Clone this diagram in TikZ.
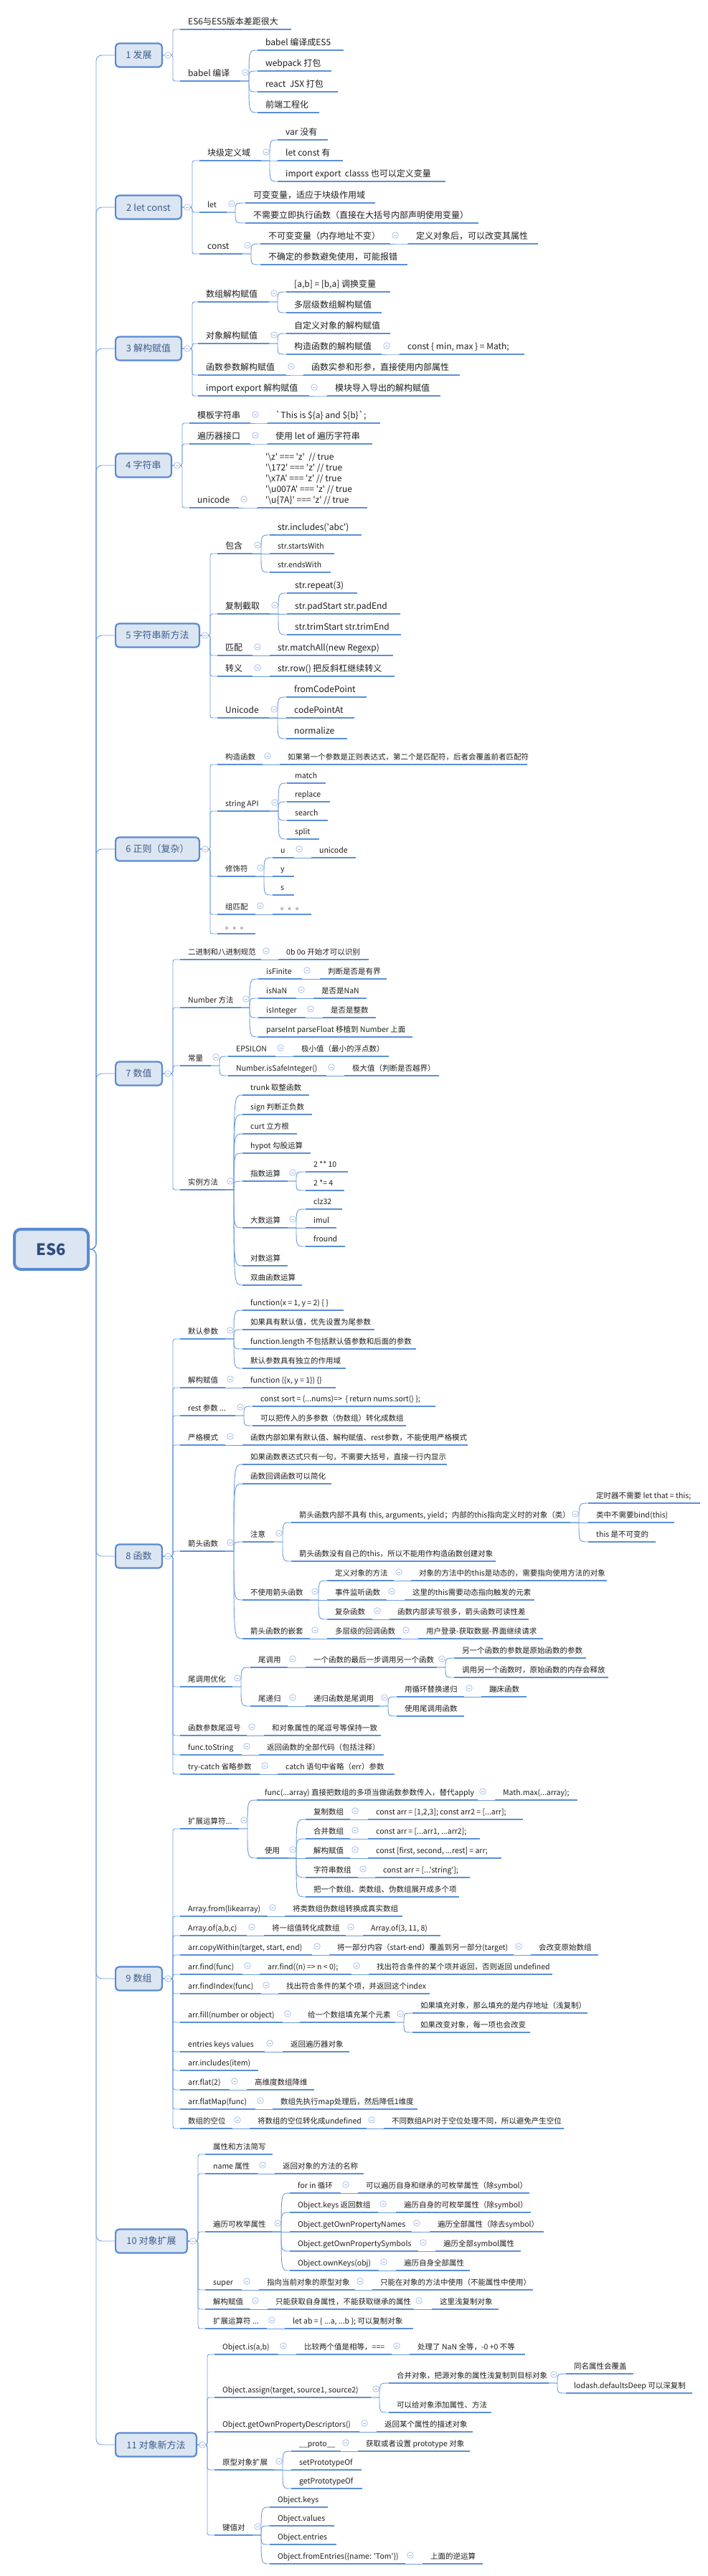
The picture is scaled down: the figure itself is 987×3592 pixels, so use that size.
\documentclass[tikz,border=0pt]{standalone}
\usepackage{fontspec}
\newfontfamily\zh{Noto Sans CJK SC}
\usetikzlibrary{calc}
\definecolor{ulc}{HTML}{5B8FD8}
\definecolor{cnc}{HTML}{6D9CDD}
\definecolor{btc}{HTML}{A3B9E6}
\definecolor{boxf}{HTML}{DCE6F3}
\definecolor{boxb}{HTML}{5A8AD2}
\definecolor{l1c}{HTML}{3E5C8A}
\definecolor{rootc}{HTML}{2F4E7E}
\definecolor{txc}{HTML}{1E1E1E}
\tikzset{
 tnb/.style={anchor=south west, inner xsep=11pt, inner ysep=4pt, text=txc},
 tn/.style={tnb, text height=8.5pt, text depth=2.5pt, font=\zh\fontsize{12}{14}\selectfont},
 sm/.style={font=\zh\fontsize{10.5}{12.5}\selectfont, text height=7.5pt, text depth=2pt},
 ul/.style={draw=ulc, line width=2.6pt},
 conn/.style={draw=cnc, line width=0.9pt},
 btn/.style={draw=btc, fill=white, line width=0.7pt},
 btnm/.style={draw=btc, line width=0.7pt},
 l1/.style={draw=boxb, line width=2.2pt, fill=boxf, rounded corners=5pt, minimum height=33pt, inner sep=2pt, text=l1c, font=\zh\fontsize{13}{15}\selectfont},
 rootn/.style={draw=boxb, line width=4pt, fill=boxf, rounded corners=9pt, minimum width=103pt, minimum height=56pt, text=rootc, font=\zh\bfseries\fontsize{22}{26}\selectfont},
}
\newcommand\topic[6][]{%
  \node[tn,#1] (#2) at (#3,#4) {#6};
  \coordinate (#2e) at (#3+#5,#4);
  \draw[ul] (#3,#4) -- (#3+#5,#4);
}
\newcommand\kids[2]{%
  \foreach \kid in {#2}{%
    \draw[conn] let \p1=(#1e), \p2=(\kid.south west) in (\p1) -- (\x1+12pt,\y1) .. controls (\x1+12pt,\y2) .. (\p2);
  }%
  \draw[btn] ($(#1e)+(7pt,12pt)$) circle[radius=4.3pt];
  \draw[btnm] ($(#1e)+(4.8pt,12pt)$) -- ++(4.4pt,0pt);
}
\newcommand\lkids[2]{%
  \foreach \kid in {#2}{%
    \draw[conn, rounded corners=3pt] let \p1=(#1.east), \p2=(\kid.south west) in (\p1) -- (\x1+14pt,\y1) |- (\p2);
  }%
  \draw[btn] ($(#1.east)+(7pt,0pt)$) circle[radius=4.3pt];
  \draw[btnm] ($(#1.east)+(4.8pt,0pt)$) -- ++(4.4pt,0pt);
}
\begin{document}
\begin{tikzpicture}[x=1pt,y=-1pt]
\fill[white] (0,0) rectangle (987,3592);
\useasboundingbox (0,0) rectangle (987,3592);

% root and level-1 boxes
\node[rootn] (root) at (71.5,1742) {ES6};
\node[l1, minimum width=64.8pt] (s1) at (193.5,77) {1 发展};
\node[l1, minimum width=91.8pt] (s2) at (207,289) {2 let const};
\node[l1, minimum width=91.8pt] (s3) at (207,486) {3 解构赋值};
\node[l1, minimum width=77.8pt] (s4) at (200,649) {4 字符串};
\node[l1, minimum width=116.8pt] (s5) at (219.5,886) {5 字符串新方法};
\node[l1, minimum width=116.8pt] (s6) at (219.5,1184) {6 正则（复杂）};
\node[l1, minimum width=64.8pt] (s7) at (193.5,1497) {7 数值};
\node[l1, minimum width=64.8pt] (s8) at (193.5,2170) {8 函数};
\node[l1, minimum width=64.8pt] (s9) at (193.5,2759) {9 数组};
\node[l1, minimum width=99.8pt] (s10) at (211,3125) {10 对象扩展};
\node[l1, minimum width=112.8pt] (s11) at (217.5,3409) {11 对象新方法};

% section 1
\topic{a1}{251}{41}{155}{ES6与ES5版本差距很大}
\topic{a2}{251}{113}{84}{babel 编译}
\topic{a21}{359}{70}{120}{babel 编译成ES5}
\topic{a22}{359}{99}{103}{webpack 打包}
\topic{a23}{359}{128}{112}{react\ \ JSX 打包}
\topic{a24}{359}{157}{86}{前端工程化}

% section 2
\topic{b1}{278}{224}{86}{块级定义域}
\topic{b11}{387}{195}{70}{var 没有}
\topic{b12}{387}{224}{91}{let const 有}
\topic{b13}{387}{253}{234}{import export\ \ classs 也可以定义变量}
\topic[sm]{b2}{278}{296}{38}{let}
\topic{b21}{342}{283}{181}{可变变量，适应于块级作用域}
\topic{b22}{342}{311}{325}{不需要立即执行函数（直接在大括号内部声明使用变量）}
\topic{b3}{278}{354}{60}{const}
\topic{b31}{363}{340}{181}{不可变变量（内存地址不变）}
\topic{b311}{569}{340}{181}{定义对象后，可以改变其属性}
\topic{b32}{363}{369}{205}{不确定的参数避免使用，可能报错}

% section 3
\topic{c1}{276}{421}{99}{数组解构赋值}
\topic{c11}{399}{407}{145}{[a,b] = [b,a] 调换变量}
\topic{c12}{399}{436}{133}{多层级数组解构赋值}
\topic{c2}{276}{479}{99}{对象解构赋值}
\topic{c21}{399}{465}{145}{自定义对象的解构赋值}
\topic{c22}{399}{494}{133}{构造函数的解构赋值}
\topic{c221}{557}{494}{174}{const \{ min, max \} = Math;}
\topic{c3}{276}{523}{123}{函数参数解构赋值}
\topic{c31}{423}{523}{218}{函数实参和形参，直接使用内部属性}
\topic{c4}{276}{552}{155}{import export 解构赋值}
\topic{c41}{456}{552}{158}{模块导入导出的解构赋值}

% section 4
\topic{d1}{264}{590}{85}{模板字符串}
\topic{d11}{373}{590}{157}{`This is \$\{a\} and \$\{b\}`;}
\topic{d2}{264}{619}{85}{遍历器接口}
\topic{d21}{373}{619}{146}{使用 let of 遍历字符串}
\topic{d3}{264}{708}{69}{unicode}
\node[tnb, align=left, font=\zh\fontsize{12}{15}\selectfont] (d31) at (359,708) {'\textbackslash z' === 'z'\ \ // true\\'\textbackslash 172' === 'z' // true\\'\textbackslash x7A' === 'z' // true\\'\textbackslash u007A' === 'z' // true\\'\textbackslash u\{7A\}' === 'z' // true};
\coordinate (d31e) at (512,708);
\draw[ul] (359,708) -- (512,708);

% section 5
\topic{e1}{303}{772}{49}{包含}
\topic{e11}{376}{746}{128}{str.includes('abc')}
\topic[sm]{e12}{376}{772}{90}{str.startsWith}
\topic[sm]{e13}{376}{798}{85}{str.endsWith}
\topic{e2}{303}{856}{73}{复制截取}
\topic{e21}{400}{827}{98}{str.repeat(3)}
\topic{e22}{400}{856}{158}{str.padStart str.padEnd}
\topic{e23}{400}{885}{159}{str.trimStart str.trimEnd}
\topic{e3}{303}{914}{49}{匹配}
\topic{e31}{376}{914}{172}{str.matchAll(new Regexp)}
\topic{e4}{303}{943}{49}{转义}
\topic{e41}{376}{943}{174}{str.row() 把反斜杠继续转义}
\topic{e5}{303}{1001}{72}{Unicode}
\topic{e51}{399}{972}{112}{fromCodePoint}
\topic{e52}{399}{1001}{95}{codePointAt}
\topic{e53}{399}{1030}{85}{normalize}

% section 6
\topic[sm]{f1}{303}{1066}{63}{构造函数}
\topic[sm]{f11}{390}{1066}{345}{如果第一个参数是正则表达式，第二个是匹配符，后者会覆盖前者匹配符}
\topic[sm]{f2}{303}{1131}{73}{string API}
\topic[sm]{f21}{400}{1092}{54}{match}
\topic[sm]{f22}{400}{1118}{60}{replace}
\topic[sm]{f23}{400}{1144}{57}{search}
\topic[sm]{f24}{400}{1170}{45}{split}
\topic[sm]{f3}{303}{1222}{53}{修饰符}
\topic[sm]{f31}{380}{1196}{30}{u}
\topic[sm]{f311}{434}{1196}{62}{unicode}
\topic[sm]{f32}{380}{1222}{30}{y}
\topic[sm]{f33}{380}{1248}{30}{s}
\topic[sm]{f4}{303}{1275}{53}{组匹配}
\topic[sm]{f41}{380}{1275}{54}{。。。}
\topic[sm]{f5}{303}{1302}{53}{。。。}

% section 7
\topic[sm]{g1}{251}{1338}{113}{二进制和八进制规范}
\topic[sm]{g11}{388}{1338}{126}{0b 0o 开始才可以识别}
\topic[sm]{g2}{251}{1405}{85}{Number 方法}
\topic[sm]{g21}{360}{1365}{61}{isFinite}
\topic[sm]{g211}{446}{1365}{93}{判断是否是有界}
\topic[sm]{g22}{360}{1392}{53}{isNaN}
\topic[sm]{g221}{437}{1392}{74}{是否是NaN}
\topic[sm]{g23}{360}{1419}{66}{isInteger}
\topic[sm]{g231}{450}{1419}{74}{是否是整数}
\topic[sm]{g24}{360}{1446}{215}{parseInt parseFloat 移植到 Number 上面}
\topic[sm]{g3}{251}{1486}{43}{常量}
\topic[sm]{g31}{318}{1473}{66}{EPSILON}
\topic[sm]{g311}{409}{1473}{133}{极小值（最小的浮点数）}
\topic[sm]{g32}{318}{1500}{137}{Number.isSafeInteger()}
\topic[sm]{g321}{480}{1500}{132}{极大值（判断是否越界）}
\topic[sm]{g4}{251}{1659}{63}{实例方法}
\topic[sm]{g41}{338}{1527}{93}{trunk 取整函数}
\topic[sm]{g42}{338}{1554}{97}{sign 判断正负数}
\topic[sm]{g43}{338}{1581}{76}{curt 立方根}
\topic[sm]{g44}{338}{1608}{95}{hypot 勾股运算}
\topic[sm]{g45}{338}{1647}{63}{指数运算}
\topic[sm]{g451}{426}{1634}{59}{2 ** 10}
\topic[sm]{g452}{426}{1660}{54}{2 *= 4}
\topic[sm]{g46}{338}{1712}{63}{大数运算}
\topic[sm]{g461}{426}{1686}{51}{clz32}
\topic[sm]{g462}{426}{1712}{43}{imul}
\topic[sm]{g463}{426}{1738}{55}{fround}
\topic[sm]{g47}{338}{1765}{63}{对数运算}
\topic[sm]{g48}{338}{1792}{83}{双曲函数运算}

% section 8
\topic[sm]{h1}{251}{1867}{63}{默认参数}
\topic[sm]{h11}{338}{1827}{141}{function(x = 1, y = 2) \{ \}}
\topic[sm]{h12}{338}{1854}{184}{如果具有默认值，优先设置为尾参数}
\topic[sm]{h13}{338}{1881}{242}{function.length 不包括默认值参数和后面的参数}
\topic[sm]{h14}{338}{1908}{144}{默认参数具有独立的作用域}
\topic[sm]{h2}{251}{1935}{63}{解构赋值}
\topic[sm]{h21}{338}{1935}{130}{function (\{x, y = 1\}) \{\}}
\topic[sm]{h3}{251}{1974}{77}{rest 参数 ...}
\topic[sm]{h31}{352}{1961}{255}{const sort = (...nums)=>\ \ \{ return nums.sort() \};}
\topic[sm]{h32}{352}{1988}{214}{可以把传入的多参数（伪数组）转化成数组}
\topic[sm]{h4}{251}{2015}{63}{严格模式}
\topic[sm]{h41}{338}{2015}{314}{函数内部如果有默认值、解构赋值、rest参数，不能使用严格模式}
\topic[sm]{h5}{251}{2163}{63}{箭头函数}
\topic[sm]{h51}{338}{2042}{285}{如果函数表达式只有一句，不需要大括号，直接一行内显示}
\topic[sm]{h52}{338}{2069}{124}{函数回调函数可以简化}
\topic[sm]{h53}{338}{2150}{44}{注意}
\topic[sm]{h531}{406}{2123}{389}{箭头函数内部不具有 this, arguments, yield；内部的this指向定义时的对象（类）}
\topic[sm]{h5311}{820}{2096}{156}{定时器不需要 let that = this;}
\topic[sm]{h5312}{820}{2123}{120}{类中不需要bind(this)}
\topic[sm]{h5313}{820}{2150}{94}{this 是不可变的}
\topic[sm]{h532}{406}{2177}{285}{箭头函数没有自己的this，所以不能用作构造函数创建对象}
\topic[sm]{h54}{338}{2231}{94}{不使用箭头函数}
\topic[sm]{h541}{456}{2204}{93}{定义对象的方法}
\topic[sm]{h5411}{573}{2204}{273}{对象的方法中的this是动态的，需要指向使用方法的对象}
\topic[sm]{h542}{456}{2231}{83}{事件监听函数}
\topic[sm]{h5421}{564}{2231}{181}{这里的this需要动态指向触发的元素}
\topic[sm]{h543}{456}{2258}{63}{复杂函数}
\topic[sm]{h5431}{543}{2258}{194}{函数内部读写很多，箭头函数可读性差}
\topic[sm]{h55}{338}{2285}{94}{箭头函数的嵌套}
\topic[sm]{h551}{456}{2285}{103}{多层级的回调函数}
\topic[sm]{h5511}{583}{2285}{174}{用户登录-获取数据-界面继续请求}
\topic[sm]{h6}{251}{2352}{73}{尾调用优化}
\topic[sm]{h61}{349}{2325}{52}{尾调用}
\topic[sm]{h611}{426}{2325}{183}{一个函数的最后一步调用另一个函数}
\topic[sm]{h6111}{633}{2312}{184}{另一个函数的参数是原始函数的参数}
\topic[sm]{h6112}{633}{2339}{215}{调用另一个函数时，原始函数的内存会释放}
\topic[sm]{h62}{349}{2379}{52}{尾递归}
\topic[sm]{h621}{426}{2379}{103}{递归函数是尾调用}
\topic[sm]{h6211}{553}{2366}{94}{用循环替换递归}
\topic[sm]{h62111}{671}{2366}{63}{蹦床函数}
\topic[sm]{h6212}{553}{2393}{94}{使用尾调用函数}
\topic[sm]{h7}{251}{2420}{93}{函数参数尾逗号}
\topic[sm]{h71}{368}{2420}{163}{和对象属性的尾逗号等保持一致}
\topic[sm]{h8}{251}{2447}{86}{func.toString}
\topic[sm]{h81}{361}{2447}{174}{返回函数的全部代码（包括注释）}
\topic[sm]{h9}{251}{2474}{111}{try-catch 省略参数}
\topic[sm]{h91}{387}{2474}{163}{catch 语句中省略（err）参数}

% section 9
\topic[sm]{i1}{251}{2550}{82}{扩展运算符...}
\topic[sm]{i11}{358}{2510}{308}{func(...array) 直接把数组的多项当做函数参数传入，替代apply}
\topic[sm]{i111}{690}{2510}{115}{Math.max(...array);}
\topic[sm]{i12}{358}{2591}{43}{使用}
\topic[sm]{i121}{426}{2537}{62}{复制数组}
\topic[sm]{i1211}{513}{2537}{216}{const arr = [1,2,3]; const arr2 = [...arr];}
\topic[sm]{i122}{426}{2564}{62}{合并数组}
\topic[sm]{i1221}{513}{2564}{156}{const arr = [...arr1, ...arr2];}
\topic[sm]{i123}{426}{2591}{62}{解构赋值}
\topic[sm]{i1231}{513}{2591}{186}{const [first, second, ...rest] = arr;}
\topic[sm]{i124}{426}{2618}{73}{字符串数组}
\topic[sm]{i1241}{523}{2618}{132}{const arr = [...'string'];}
\topic[sm]{i125}{426}{2645}{214}{把一个数组、类数组、伪数组展开成多个项}
\topic[sm]{i2}{251}{2672}{122}{Array.from(likearray)}
\topic[sm]{i21}{397}{2672}{164}{将类数组伪数组转换成真实数组}
\topic[sm]{i3}{251}{2699}{93}{Array.of(a,b,c)}
\topic[sm]{i31}{368}{2699}{114}{将一组值转化成数组}
\topic[sm]{i311}{506}{2699}{108}{Array.of(3, 11, 8)}
\topic[sm]{i4}{251}{2726}{184}{arr.copyWithin(target, start, end)}
\topic[sm]{i41}{459}{2726}{257}{将一部分内容（start-end）覆盖到另一部分(target)}
\topic[sm]{i411}{740}{2726}{94}{会改变原始数组}
\topic[sm]{i5}{251}{2753}{87}{arr.find(func)}
\topic[sm]{i51}{362}{2753}{128}{arr.find((n) => n < 0);}
\topic[sm]{i511}{514}{2753}{256}{找出符合条件的某个项并返回，否则返回 undefined}
\topic[sm]{i6}{251}{2780}{113}{arr.findIndex(func)}
\topic[sm]{i61}{388}{2780}{211}{找出符合条件的某个项，并返回这个index}
\topic[sm]{i7}{251}{2820}{143}{arr.fill(number or object)}
\topic[sm]{i71}{418}{2820}{133}{给一个数组填充某个元素}
\topic[sm]{i711}{575}{2807}{244}{如果填充对象，那么填充的是内存地址（浅复制）}
\topic[sm]{i712}{575}{2834}{164}{如果改变对象，每一项也会改变}
\topic[sm]{i8}{251}{2861}{118}{entries keys values}
\topic[sm]{i81}{394}{2861}{93}{返回遍历器对象}
\topic[sm]{i9}{251}{2887}{109}{arr.includes(item)}
\topic[sm]{ia}{251}{2914}{69}{arr.flat(2)}
\topic[sm]{ia1}{344}{2914}{94}{高维度数组降维}
\topic[sm]{ib}{251}{2941}{105}{arr.flatMap(func)}
\topic[sm]{ib1}{380}{2941}{202}{数组先执行map处理后，然后降低1维度}
\topic[sm]{ic}{251}{2968}{73}{数组的空位}
\topic[sm]{ic1}{348}{2968}{163}{将数组的空位转化成undefined}
\topic[sm]{ic11}{535}{2968}{251}{不同数组API对于空位处理不同，所以避免产生空位}

% section 10
\topic[sm]{j1}{286}{3004}{94}{属性和方法简写}
\topic[sm]{j2}{286}{3031}{73}{name 属性}
\topic[sm]{j21}{383}{3031}{124}{返回对象的方法的名称}
\topic[sm]{j3}{286}{3112}{94}{遍历可枚举属性}
\topic[sm]{j31}{404}{3058}{71}{for in 循环}
\topic[sm]{j311}{499}{3058}{239}{可以遍历自身和继承的可枚举属性（除symbol）}
\topic[sm]{j32}{404}{3085}{123}{Object.keys 返回数组}
\topic[sm]{j321}{552}{3085}{188}{遍历自身的可枚举属性（除symbol）}
\topic[sm]{j33}{404}{3112}{170}{Object.getOwnPropertyNames}
\topic[sm]{j331}{599}{3112}{159}{遍历全部属性（除去symbol）}
\topic[sm]{j34}{404}{3139}{179}{Object.getOwnPropertySymbols}
\topic[sm]{j341}{607}{3139}{119}{遍历全部symbol属性}
\topic[sm]{j35}{404}{3166}{124}{Object.ownKeys(obj)}
\topic[sm]{j351}{552}{3166}{103}{遍历自身全部属性}
\topic[sm]{j4}{286}{3193}{51}{super}
\topic[sm]{j41}{361}{3193}{134}{指向当前对象的原型对象}
\topic[sm]{j411}{519}{3193}{224}{只能在对象的方法中使用（不能属性中使用）}
\topic[sm]{j5}{286}{3220}{63}{解构赋值}
\topic[sm]{j51}{373}{3220}{204}{只能获取自身属性，不能获取继承的属性}
\topic[sm]{j511}{602}{3220}{93}{这里浅复制对象}
\topic[sm]{j6}{286}{3247}{86}{扩展运算符 ...}
\topic[sm]{j61}{397}{3247}{179}{let ab = \{ ...a, ...b \}; 可以复制对象}

% section 11
\topic[sm]{k1}{299}{3283}{89}{Object.is(a,b)}
\topic[sm]{k11}{413}{3283}{133}{比较两个值是相等，===}
\topic[sm]{k111}{571}{3283}{161}{处理了 NaN 全等，-0 +0 不等}
\topic[sm]{k2}{299}{3343}{218}{Object.assign(target, source1, source2)}
\topic[sm]{k21}{542}{3323}{223}{合并对象，把源对象的属性浅复制到目标对象}
\topic[sm]{k211}{789}{3310}{94}{同名属性会覆盖}
\topic[sm]{k212}{789}{3337}{176}{lodash.defaultsDeep 可以深复制}
\topic[sm]{k22}{542}{3364}{143}{可以给对象添加属性、方法}
\topic[sm]{k3}{299}{3391}{202}{Object.getOwnPropertyDescriptors()}
\topic[sm]{k31}{525}{3391}{134}{返回某个属性的描述对象}
\topic[sm]{k4}{299}{3444}{83}{原型对象扩展}
\topic[sm]{k41}{406}{3418}{69}{\_\_proto\_\_}
\topic[sm]{k411}{499}{3418}{156}{获取或者设置 prototype 对象}
\topic[sm]{k42}{406}{3444}{98}{setPrototypeOf}
\topic[sm]{k43}{406}{3470}{99}{getPrototypeOf}
\topic[sm]{k5}{299}{3535}{53}{键值对}
\topic[sm]{k51}{376}{3496}{81}{Object.keys}
\topic[sm]{k52}{376}{3522}{90}{Object.values}
\topic[sm]{k53}{376}{3548}{93}{Object.entries}
\topic[sm]{k54}{376}{3575}{189}{Object.fromEntries(\{name: 'Tom'\})}
\topic[sm]{k541}{589}{3575}{84}{上面的逆运算}

% trunk
\foreach \b in {s1,s2,s3,s4,s5,s6,s7,s8,s9,s10,s11}{
  \draw[conn, rounded corners=8pt] (root.east) -- (134,1742) |- (\b.west);
}

% connectors
\lkids{s1}{a1,a2}
\kids{a2}{a21,a22,a23,a24}

\lkids{s2}{b1,b2,b3}
\kids{b1}{b11,b12,b13}
\kids{b2}{b21,b22}
\kids{b3}{b31,b32}
\kids{b31}{b311}

\lkids{s3}{c1,c2,c3,c4}
\kids{c1}{c11,c12}
\kids{c2}{c21,c22}
\kids{c22}{c221}
\kids{c3}{c31}
\kids{c4}{c41}

\lkids{s4}{d1,d2,d3}
\kids{d1}{d11}
\kids{d2}{d21}
\kids{d3}{d31}

\lkids{s5}{e1,e2,e3,e4,e5}
\kids{e1}{e11,e12,e13}
\kids{e2}{e21,e22,e23}
\kids{e3}{e31}
\kids{e4}{e41}
\kids{e5}{e51,e52,e53}

\lkids{s6}{f1,f2,f3,f4,f5}
\kids{f1}{f11}
\kids{f2}{f21,f22,f23,f24}
\kids{f3}{f31,f32,f33}
\kids{f31}{f311}
\kids{f4}{f41}

\lkids{s7}{g1,g2,g3,g4}
\kids{g1}{g11}
\kids{g2}{g21,g22,g23,g24}
\kids{g21}{g211}
\kids{g22}{g221}
\kids{g23}{g231}
\kids{g3}{g31,g32}
\kids{g31}{g311}
\kids{g32}{g321}
\kids{g4}{g41,g42,g43,g44,g45,g46,g47,g48}
\kids{g45}{g451,g452}
\kids{g46}{g461,g462,g463}

\lkids{s8}{h1,h2,h3,h4,h5,h6,h7,h8,h9}
\kids{h1}{h11,h12,h13,h14}
\kids{h2}{h21}
\kids{h3}{h31,h32}
\kids{h4}{h41}
\kids{h5}{h51,h52,h53,h54,h55}
\kids{h53}{h531,h532}
\kids{h531}{h5311,h5312,h5313}
\kids{h54}{h541,h542,h543}
\kids{h541}{h5411}
\kids{h542}{h5421}
\kids{h543}{h5431}
\kids{h55}{h551}
\kids{h551}{h5511}
\kids{h6}{h61,h62}
\kids{h61}{h611}
\kids{h611}{h6111,h6112}
\kids{h62}{h621}
\kids{h621}{h6211,h6212}
\kids{h6211}{h62111}
\kids{h7}{h71}
\kids{h8}{h81}
\kids{h9}{h91}

\lkids{s9}{i1,i2,i3,i4,i5,i6,i7,i8,i9,ia,ib,ic}
\kids{i1}{i11,i12}
\kids{i11}{i111}
\kids{i12}{i121,i122,i123,i124,i125}
\kids{i121}{i1211}
\kids{i122}{i1221}
\kids{i123}{i1231}
\kids{i124}{i1241}
\kids{i2}{i21}
\kids{i3}{i31}
\kids{i31}{i311}
\kids{i4}{i41}
\kids{i41}{i411}
\kids{i5}{i51}
\kids{i51}{i511}
\kids{i6}{i61}
\kids{i7}{i71}
\kids{i71}{i711,i712}
\kids{i8}{i81}
\kids{ia}{ia1}
\kids{ib}{ib1}
\kids{ic}{ic1}
\kids{ic1}{ic11}

\lkids{s10}{j1,j2,j3,j4,j5,j6}
\kids{j2}{j21}
\kids{j3}{j31,j32,j33,j34,j35}
\kids{j31}{j311}
\kids{j32}{j321}
\kids{j33}{j331}
\kids{j34}{j341}
\kids{j35}{j351}
\kids{j4}{j41}
\kids{j41}{j411}
\kids{j5}{j51}
\kids{j51}{j511}
\kids{j6}{j61}

\lkids{s11}{k1,k2,k3,k4,k5}
\kids{k1}{k11}
\kids{k11}{k111}
\kids{k2}{k21,k22}
\kids{k21}{k211,k212}
\kids{k3}{k31}
\kids{k4}{k41,k42,k43}
\kids{k41}{k411}
\kids{k5}{k51,k52,k53,k54}
\kids{k54}{k541}
\end{tikzpicture}
\end{document}
